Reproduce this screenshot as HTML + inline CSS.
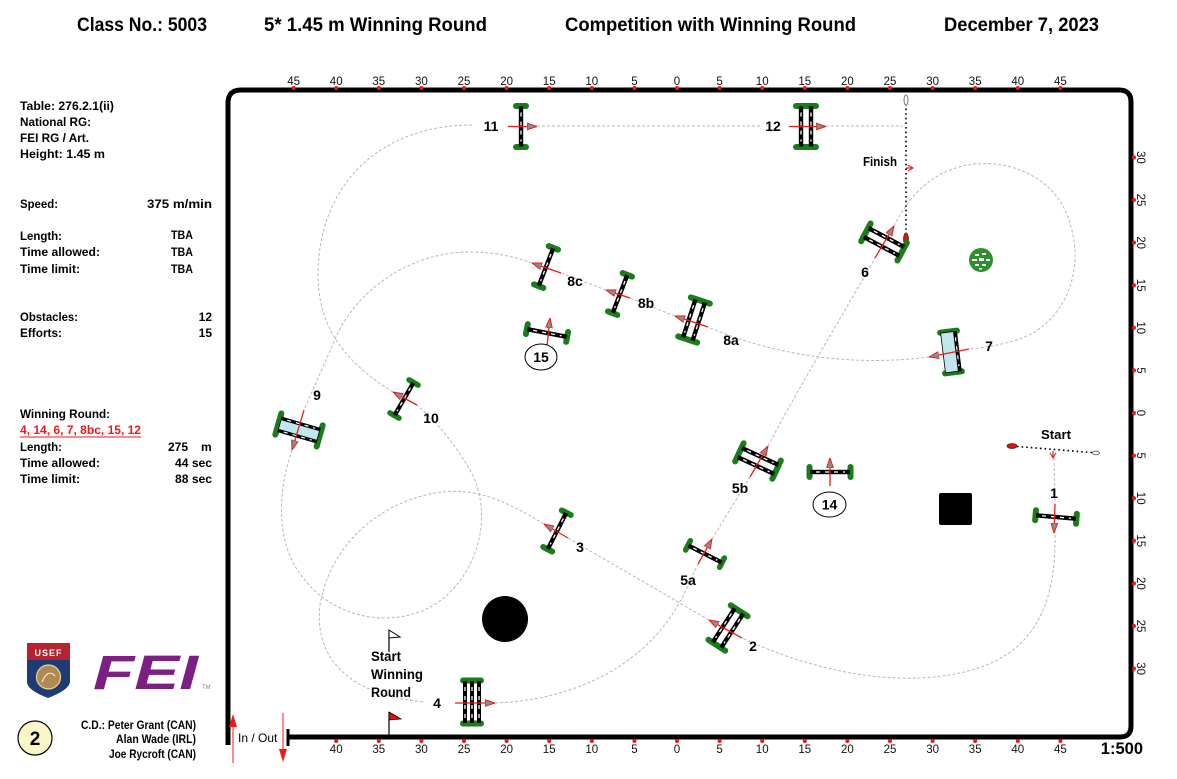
<!DOCTYPE html>
<html><head><meta charset="utf-8"><style>
html,body{margin:0;padding:0;background:#fff;}
svg{display:block;}
text{font-family:"Liberation Sans",Arial,sans-serif;}
.b{font-weight:bold;}
.lp{font-size:12px;font-weight:bold;}
.rl{font-size:11.5px;fill:#111;}
.lb{font-size:14px;font-weight:bold;text-anchor:middle;}
.trk{fill:none;stroke:#b8b8b8;stroke-width:1;stroke-dasharray:3,2;}
.arr{stroke:#f01818;stroke-width:1.3;fill:none;marker-end:url(#ah);}
</style></head><body>
<svg width="1177" height="779" viewBox="0 0 1177 779" xmlns="http://www.w3.org/2000/svg">
<defs>
<marker id="ah" viewBox="0 0 10 8" refX="10" refY="4" markerWidth="10" markerHeight="8" markerUnits="userSpaceOnUse" orient="auto"><path d="M0,0.6 L10,4 L0,7.4 Z" fill="#8c8c8c" stroke="#f01818" stroke-width="1"/></marker>
<marker id="rh" viewBox="0 0 8 8" refX="7" refY="4" markerWidth="7" markerHeight="7" markerUnits="userSpaceOnUse" orient="auto"><path d="M1,0.5 L7,4 L1,7.5" fill="none" stroke="#f01818" stroke-width="1.2"/></marker>
<g id="v">
<rect x="-8" y="-23.5" width="16" height="6" rx="3" fill="#197d19"/>
<rect x="-8" y="17.5" width="16" height="6" rx="3" fill="#197d19"/>
<rect x="-2.2" y="-20" width="4.4" height="40" fill="#000"/>
<line x1="0" y1="-14" x2="0" y2="15" stroke="#fff" stroke-width="1.3" stroke-dasharray="4,5"/>
</g>
<g id="ox">
<rect x="-13" y="-23.5" width="26" height="6" rx="3" fill="#197d19"/>
<rect x="-13" y="17.5" width="26" height="6" rx="3" fill="#197d19"/>
<rect x="-7.2" y="-20" width="4.4" height="40" fill="#000"/>
<rect x="2.8" y="-20" width="4.4" height="40" fill="#000"/>
<line x1="-5" y1="-14" x2="-5" y2="15" stroke="#fff" stroke-width="1.3" stroke-dasharray="4,5"/>
<line x1="5" y1="-14" x2="5" y2="15" stroke="#fff" stroke-width="1.3" stroke-dasharray="4,5"/>
</g>
</defs>

<!-- Header -->
<text x="77" y="31" class="b" font-size="19" textLength="130" lengthAdjust="spacingAndGlyphs">Class No.: 5003</text>
<text x="264" y="31" class="b" font-size="19" textLength="223" lengthAdjust="spacingAndGlyphs">5* 1.45 m Winning Round</text>
<text x="565" y="31" class="b" font-size="19" textLength="291" lengthAdjust="spacingAndGlyphs">Competition with Winning Round</text>
<text x="944" y="31" class="b" font-size="19" textLength="155" lengthAdjust="spacingAndGlyphs">December 7, 2023</text>

<!-- Left panel -->
<g class="lp">
<text x="20" y="110" textLength="94" lengthAdjust="spacingAndGlyphs">Table: 276.2.1(ii)</text>
<text x="20" y="126" textLength="71" lengthAdjust="spacingAndGlyphs">National RG:</text>
<text x="20" y="142" textLength="69" lengthAdjust="spacingAndGlyphs">FEI RG / Art.</text>
<text x="20" y="158" textLength="85" lengthAdjust="spacingAndGlyphs">Height: 1.45  m</text>
<text x="20" y="208" textLength="38" lengthAdjust="spacingAndGlyphs">Speed:</text>
<text x="147" y="208" textLength="65" lengthAdjust="spacingAndGlyphs">375  m/min</text>
<text x="20" y="240" textLength="42" lengthAdjust="spacingAndGlyphs">Length:</text>
<text x="20" y="256" textLength="80" lengthAdjust="spacingAndGlyphs">Time allowed:</text>
<text x="20" y="273" textLength="60" lengthAdjust="spacingAndGlyphs">Time limit:</text>
<text x="171" y="239" textLength="22" lengthAdjust="spacingAndGlyphs">TBA</text>
<text x="171" y="256" textLength="22" lengthAdjust="spacingAndGlyphs">TBA</text>
<text x="171" y="273" textLength="22" lengthAdjust="spacingAndGlyphs">TBA</text>
<text x="20" y="321" textLength="58" lengthAdjust="spacingAndGlyphs">Obstacles:</text>
<text x="20" y="337" textLength="42" lengthAdjust="spacingAndGlyphs">Efforts:</text>
<text x="212" y="321" text-anchor="end">12</text>
<text x="212" y="337" text-anchor="end">15</text>
<text x="20" y="418" textLength="90" lengthAdjust="spacingAndGlyphs">Winning Round:</text>
<text x="20" y="434" fill="#f01818" textLength="121" lengthAdjust="spacingAndGlyphs">4, 14, 6, 7, 8bc, 15, 12</text>
<text x="20" y="451" textLength="42" lengthAdjust="spacingAndGlyphs">Length:</text>
<text x="20" y="467" textLength="80" lengthAdjust="spacingAndGlyphs">Time allowed:</text>
<text x="20" y="483" textLength="60" lengthAdjust="spacingAndGlyphs">Time limit:</text>
<text x="168" y="451" textLength="20" lengthAdjust="spacingAndGlyphs">275</text>
<text x="201" y="451">m</text>
<text x="175" y="467" textLength="37" lengthAdjust="spacingAndGlyphs">44  sec</text>
<text x="175" y="483" textLength="37" lengthAdjust="spacingAndGlyphs">88  sec</text>
</g>
<line x1="20" y1="437" x2="141" y2="437" stroke="#f01818" stroke-width="1"/>

<!-- Logos -->
<path d="M27,643 L70,643 L70,682 Q69,690 48,698 Q27,690 27,682 Z" fill="#1f3b73"/>
<path d="M27,643 L70,643 L70,660 L27,660 Z" fill="#b5232f"/>
<text x="48.5" y="656" text-anchor="middle" font-size="9" fill="#fff" font-family="Liberation Serif,serif" font-weight="bold" letter-spacing="1">USEF</text>
<circle cx="48.5" cy="677" r="12" fill="#b08a52" stroke="#e6d3a0" stroke-width="1.2"/>
<path d="M42,682 Q48,668 55,676" fill="none" stroke="#fff3d6" stroke-width="1"/>
<text x="93" y="689" font-size="48" font-weight="bold" fill="#7c1f83" textLength="105" lengthAdjust="spacingAndGlyphs" font-style="italic">FEI</text>
<text x="202" y="689" font-size="6" fill="#888">TM</text>
<circle cx="35" cy="738" r="17" fill="#fbf6c6" stroke="#000" stroke-width="1.2"/>
<text x="35" y="745" text-anchor="middle" class="b" font-size="19">2</text>
<g class="lp" font-size="11.5" text-anchor="end">
<text x="196" y="729" textLength="115" lengthAdjust="spacingAndGlyphs">C.D.: Peter Grant (CAN)</text>
<text x="196" y="743" textLength="80" lengthAdjust="spacingAndGlyphs">Alan Wade (IRL)</text>
<text x="196" y="758" textLength="87" lengthAdjust="spacingAndGlyphs">Joe Rycroft (CAN)</text>
</g>

<!-- Arena border -->
<path d="M228,745 L228,103 Q228,90 241,90 L1119,90 Q1131,90 1131,102 L1131,726 Q1131,737 1120,737 L288,737" fill="none" stroke="#000" stroke-width="5"/>
<line x1="288" y1="729" x2="288" y2="746" stroke="#000" stroke-width="3"/>

<!-- Top ruler -->
<g fill="#f01818">
<circle cx="293.6" cy="88" r="2"/><circle cx="336.2" cy="88" r="2"/><circle cx="378.8" cy="88" r="2"/><circle cx="421.4" cy="88" r="2"/><circle cx="464" cy="88" r="2"/><circle cx="506.6" cy="88" r="2"/><circle cx="549.2" cy="88" r="2"/><circle cx="591.8" cy="88" r="2"/><circle cx="634.4" cy="88" r="2"/><circle cx="677" cy="88" r="2"/><circle cx="719.6" cy="88" r="2"/><circle cx="762.2" cy="88" r="2"/><circle cx="804.8" cy="88" r="2"/><circle cx="847.4" cy="88" r="2"/><circle cx="890" cy="88" r="2"/><circle cx="932.6" cy="88" r="2"/><circle cx="975.2" cy="88" r="2"/><circle cx="1017.8" cy="88" r="2"/><circle cx="1060.4" cy="88" r="2"/>
</g>
<g class="rl" text-anchor="middle">
<text x="293.6" y="85">45</text><text x="336.2" y="85">40</text><text x="378.8" y="85">35</text><text x="421.4" y="85">30</text><text x="464" y="85">25</text><text x="506.6" y="85">20</text><text x="549.2" y="85">15</text><text x="591.8" y="85">10</text><text x="634.4" y="85">5</text><text x="677" y="85">0</text><text x="719.6" y="85">5</text><text x="762.2" y="85">10</text><text x="804.8" y="85">15</text><text x="847.4" y="85">20</text><text x="890" y="85">25</text><text x="932.6" y="85">30</text><text x="975.2" y="85">35</text><text x="1017.8" y="85">40</text><text x="1060.4" y="85">45</text>
</g>
<!-- Bottom ruler -->
<g fill="#f01818">
<circle cx="336.2" cy="741" r="2"/><circle cx="378.8" cy="741" r="2"/><circle cx="421.4" cy="741" r="2"/><circle cx="464" cy="741" r="2"/><circle cx="506.6" cy="741" r="2"/><circle cx="549.2" cy="741" r="2"/><circle cx="591.8" cy="741" r="2"/><circle cx="634.4" cy="741" r="2"/><circle cx="677" cy="741" r="2"/><circle cx="719.6" cy="741" r="2"/><circle cx="762.2" cy="741" r="2"/><circle cx="804.8" cy="741" r="2"/><circle cx="847.4" cy="741" r="2"/><circle cx="890" cy="741" r="2"/><circle cx="932.6" cy="741" r="2"/><circle cx="975.2" cy="741" r="2"/><circle cx="1017.8" cy="741" r="2"/><circle cx="1060.4" cy="741" r="2"/>
</g>
<g class="rl" text-anchor="middle">
<text x="336.2" y="753">40</text><text x="378.8" y="753">35</text><text x="421.4" y="753">30</text><text x="464" y="753">25</text><text x="506.6" y="753">20</text><text x="549.2" y="753">15</text><text x="591.8" y="753">10</text><text x="634.4" y="753">5</text><text x="677" y="753">0</text><text x="719.6" y="753">5</text><text x="762.2" y="753">10</text><text x="804.8" y="753">15</text><text x="847.4" y="753">20</text><text x="890" y="753">25</text><text x="932.6" y="753">30</text><text x="975.2" y="753">35</text><text x="1017.8" y="753">40</text><text x="1060.4" y="753">45</text>
</g>
<text x="1143" y="754" text-anchor="end" class="b" font-size="16.5">1:500</text>
<!-- Right ruler -->
<g fill="#f01818">
<circle cx="1134" cy="157.4" r="2"/><circle cx="1134" cy="200" r="2"/><circle cx="1134" cy="242.6" r="2"/><circle cx="1134" cy="285.2" r="2"/><circle cx="1134" cy="327.8" r="2"/><circle cx="1134" cy="370.4" r="2"/><circle cx="1134" cy="413" r="2"/><circle cx="1134" cy="455.6" r="2"/><circle cx="1134" cy="498.2" r="2"/><circle cx="1134" cy="540.8" r="2"/><circle cx="1134" cy="583.4" r="2"/><circle cx="1134" cy="626" r="2"/><circle cx="1134" cy="668.6" r="2"/>
</g>
<g class="rl" text-anchor="middle">
<text transform="translate(1137,157.4) rotate(90)">30</text>
<text transform="translate(1137,200) rotate(90)">25</text>
<text transform="translate(1137,242.6) rotate(90)">20</text>
<text transform="translate(1137,285.2) rotate(90)">15</text>
<text transform="translate(1137,327.8) rotate(90)">10</text>
<text transform="translate(1137,370.4) rotate(90)">5</text>
<text transform="translate(1137,413) rotate(90)">0</text>
<text transform="translate(1137,455.6) rotate(90)">5</text>
<text transform="translate(1137,498.2) rotate(90)">10</text>
<text transform="translate(1137,540.8) rotate(90)">15</text>
<text transform="translate(1137,583.4) rotate(90)">20</text>
<text transform="translate(1137,626) rotate(90)">25</text>
<text transform="translate(1137,668.6) rotate(90)">30</text>
</g>

<!-- In / Out -->
<text x="238" y="742" font-size="12">In / Out</text>
<line x1="233" y1="763" x2="233" y2="724" stroke="#f01818" stroke-width="1"/>
<path d="M233,714 L229,727 L237,727 Z" fill="#f01818"/>
<line x1="283" y1="713" x2="283" y2="752" stroke="#f01818" stroke-width="1"/>
<path d="M283,762 L279,749 L287,749 Z" fill="#f01818"/>

<!-- Track -->
<path class="trk" d="M1054,458 L1055,505"/>
<path class="trk" d="M1055,530 C1056,590 1045,655 960,673 C895,687 815,672 742,638"/>
<path class="trk" d="M709,620 L568,538"/>
<path class="trk" d="M544,524 C505,500 475,488 442,492 C380,500 330,545 320,605 C314,655 345,695 425,702"/>
<path class="trk" d="M495,703 C575,700 650,665 685,592 L698,564 M712,539 L750,477 M768,446 C800,385 840,320 875,258"/>
<path class="trk" d="M894,226 C905,205 920,182 950,170 C990,154 1045,168 1065,210 C1085,255 1075,305 1035,332 C1015,343 990,347 969,349"/>
<path class="trk" d="M929,357 C860,366 780,358 708,327 M675,316 L630,298 M606,290 L561,273 M532,263 C512,256 492,252 470,252 C410,252 357,290 336,337 C326,360 315,385 304,410"/>
<path class="trk" d="M292,450 C275,500 278,550 305,580 C340,625 410,630 447,595 C485,560 490,505 470,470 C455,445 440,425 417,405"/>
<path class="trk" d="M393,392 C348,364 318,330 318,275 C318,185 380,125 472,125"/>
<path class="trk" d="M537,126 L760,126 M826,126 L903,126"/>

<!-- Finish line -->
<line x1="906" y1="104" x2="906" y2="234" stroke="#000" stroke-width="1.6" stroke-dasharray="1.6,3"/>
<ellipse cx="906" cy="100" rx="2" ry="5" fill="#fff" stroke="#777" stroke-width="1"/>
<ellipse cx="906" cy="239" rx="2.5" ry="6" fill="#e01010" stroke="#333" stroke-width="0.8"/>
<text x="863" y="166" class="b" font-size="12.5" textLength="34" lengthAdjust="spacingAndGlyphs">Finish</text>
<line x1="906" y1="168" x2="913" y2="168" stroke="#f01818" stroke-width="1.2" marker-end="url(#rh)"/>

<!-- Start line -->
<line x1="1017" y1="446.5" x2="1092" y2="452.5" stroke="#000" stroke-width="1.6" stroke-dasharray="1.6,3"/>
<ellipse cx="1012" cy="446" rx="5" ry="2.5" fill="#e01010" stroke="#333" stroke-width="0.8"/>
<ellipse cx="1096" cy="453" rx="3.5" ry="1.8" fill="#fff" stroke="#555" stroke-width="0.8"/>
<text x="1041" y="439" class="b" font-size="12.5" textLength="30" lengthAdjust="spacingAndGlyphs">Start</text>
<line x1="1053" y1="451" x2="1053" y2="458" stroke="#f01818" stroke-width="1.2" marker-end="url(#rh)"/>

<!-- Obstacles -->
<circle cx="505" cy="619" r="23" fill="#000"/>
<rect x="939" y="493" width="33" height="32" rx="2" fill="#000"/>
<circle cx="981" cy="260" r="12" fill="#2e8f2e"/>
<g fill="#fff"><rect x="975" y="254" width="4" height="2"/><rect x="982" y="253" width="4" height="2"/><rect x="972" y="259" width="5" height="2"/><rect x="979" y="258" width="5" height="3"/><rect x="986" y="259" width="4" height="2"/><rect x="975" y="264" width="4" height="2"/><rect x="982" y="264" width="4" height="2"/><rect x="979" y="268" width="3" height="1.5"/></g>

<!-- Flags -->
<line x1="389" y1="630" x2="389" y2="652" stroke="#000" stroke-width="1.2"/>
<path d="M389,630 L400,637 L389,638 Z" fill="#fff" stroke="#000" stroke-width="1"/>
<line x1="389" y1="712" x2="389" y2="737" stroke="#000" stroke-width="1.2"/>
<path d="M389,712 L401,719 L389,720 Z" fill="#e01010" stroke="#000" stroke-width="0.8"/>
<g class="b" font-size="13.5">
<text x="371" y="661" textLength="30" lengthAdjust="spacingAndGlyphs">Start</text>
<text x="371" y="679" textLength="52" lengthAdjust="spacingAndGlyphs">Winning</text>
<text x="371" y="697" textLength="40" lengthAdjust="spacingAndGlyphs">Round</text>
</g>

<!-- Jumps -->
<use href="#v" transform="translate(521,126.5)"/>
<use href="#ox" transform="translate(806,126.5)"/>
<use href="#ox" transform="translate(884,242) rotate(-62)"/>
<use href="#v" transform="translate(1056,517) rotate(-85)"/>
<use href="#ox" transform="translate(694,320) rotate(18)"/>
<use href="#v" transform="translate(620,294) rotate(21)"/>
<use href="#v" transform="translate(546,267) rotate(21)"/>
<use href="#v" transform="translate(547,333) rotate(-79)"/>
<use href="#v" transform="translate(404,399) rotate(30) scale(1,0.93)"/>
<use href="#v" transform="translate(557,531) rotate(27)"/>
<use href="#ox" transform="translate(758,461) rotate(-65)"/>
<use href="#v" transform="translate(830,472) rotate(-90)"/>
<use href="#v" transform="translate(705,554) rotate(-63) scale(1,0.93)"/>
<use href="#ox" transform="translate(728,628) rotate(33)"/>
<!-- 4 triple bar -->
<g transform="translate(472,702)">
<rect x="-12" y="-24.5" width="24" height="6" rx="3" fill="#197d19"/>
<rect x="-12" y="18.5" width="24" height="6" rx="3" fill="#197d19"/>
<rect x="-9" y="-21" width="4" height="42" fill="#000"/>
<rect x="-2" y="-21" width="4" height="42" fill="#000"/>
<rect x="5" y="-21" width="4" height="42" fill="#000"/>
<g stroke="#fff" stroke-width="1.3" stroke-dasharray="4,5"><line x1="-7" y1="-15" x2="-7" y2="16"/><line x1="0" y1="-15" x2="0" y2="16"/><line x1="7" y1="-15" x2="7" y2="16"/></g>
</g>
<!-- 7 water -->
<g transform="translate(951,352) rotate(-7)">
<rect x="-11.5" y="-23.5" width="23" height="6" rx="3" fill="#197d19"/>
<rect x="-11.5" y="17.5" width="23" height="6" rx="3" fill="#197d19"/>
<rect x="-8" y="-20" width="16" height="40" fill="#bfe8ee" stroke="#000" stroke-width="0.8"/>
<rect x="4.5" y="-20" width="3.5" height="40" fill="#000"/>
<line x1="6.2" y1="-14" x2="6.2" y2="15" stroke="#fff" stroke-width="1.2" stroke-dasharray="4,5"/>
</g>
<!-- 9 water -->
<g transform="translate(299,430) rotate(-74)">
<rect x="-14" y="-24.5" width="28" height="6" rx="3" fill="#197d19"/>
<rect x="-14" y="18.5" width="28" height="6" rx="3" fill="#197d19"/>
<rect x="-7.5" y="-20" width="15" height="40" fill="#bfe8ee" stroke="#000" stroke-width="0.8"/>
<rect x="-8" y="-20" width="3.5" height="40" fill="#000"/>
<rect x="4.5" y="-20" width="3.5" height="40" fill="#000"/>
<g stroke="#fff" stroke-width="1.2" stroke-dasharray="4,5"><line x1="-6.2" y1="-14" x2="-6.2" y2="15"/><line x1="6.2" y1="-14" x2="6.2" y2="15"/></g>
</g>

<!-- Direction arrows -->
<g>
<path class="arr" d="M508,126.5 L537,126.5"/>
<path class="arr" d="M789,126.5 L826,126.5"/>
<path class="arr" d="M875,258 L894,226"/>
<path class="arr" d="M969,349 L929,357"/>
<path class="arr" d="M1055,504 L1054,533"/>
<path class="arr" d="M708,327 L675,316"/>
<path class="arr" d="M630,298 L606,290"/>
<path class="arr" d="M561,273 L532,263"/>
<path class="arr" d="M547,346 L550,318"/>
<path class="arr" d="M304,410 L292,450"/>
<path class="arr" d="M417,405 L393,392"/>
<path class="arr" d="M568,538 L544,524"/>
<path class="arr" d="M750,477 L768,446"/>
<path class="arr" d="M830,486 L830,458"/>
<path class="arr" d="M698,564 L712,539"/>
<path class="arr" d="M742,638 L709,620"/>
<path class="arr" d="M455,703 L495,703"/>
</g>

<!-- Labels -->
<g class="lb">
<text x="491" y="131">11</text>
<text x="773" y="131">12</text>
<text x="865" y="277">6</text>
<text x="989" y="351">7</text>
<text x="1054" y="498">1</text>
<text x="731" y="345">8a</text>
<text x="646" y="308">8b</text>
<text x="575" y="286">8c</text>
<text x="317" y="400">9</text>
<text x="431" y="423">10</text>
<text x="580" y="552">3</text>
<text x="740" y="493">5b</text>
<text x="688" y="585">5a</text>
<text x="753" y="651">2</text>
<text x="437" y="708">4</text>
</g>
<ellipse cx="541" cy="357" rx="16" ry="13" fill="#fff" stroke="#000" stroke-width="1"/>
<text x="541" y="362" class="lb">15</text>
<ellipse cx="829.5" cy="504.5" rx="16.5" ry="12.5" fill="#fff" stroke="#000" stroke-width="1"/>
<text x="829.5" y="509.5" class="lb">14</text>
</svg>
</body></html>
